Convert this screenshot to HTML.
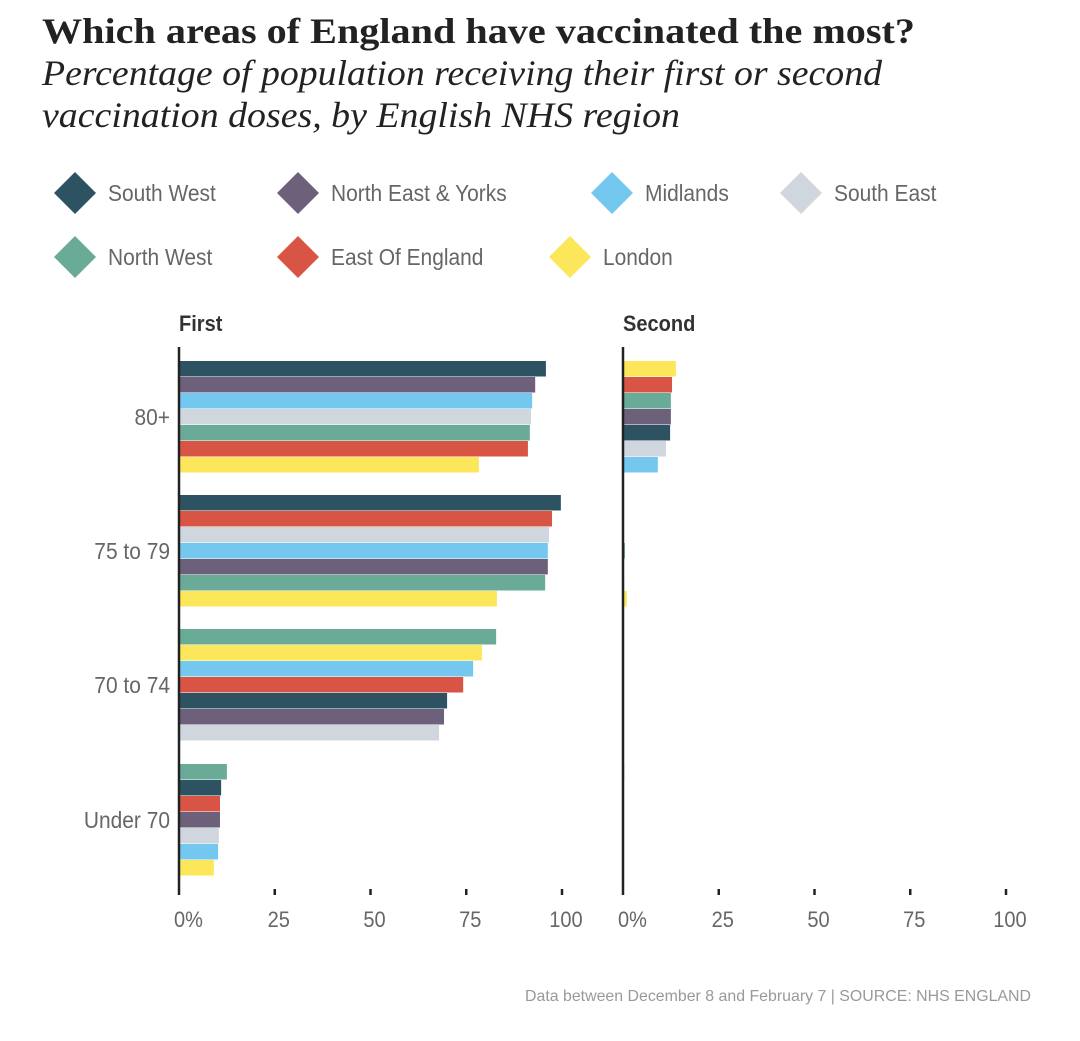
<!DOCTYPE html>
<html><head><meta charset="utf-8"><style>
body{margin:0;background:#fff}
svg{display:block}
.cond{font-family:"Liberation Sans Narrow","Liberation Sans",sans-serif}
</style></head><body>
<svg id="chart" width="1080" height="1041" xmlns="http://www.w3.org/2000/svg">
<text x="42" y="43" font-family="Liberation Serif,serif" font-weight="bold" font-size="36" fill="#222" textLength="873" lengthAdjust="spacingAndGlyphs">Which areas of England have vaccinated the most?</text>
<text x="42" y="85" font-family="Liberation Serif,serif" font-style="italic" font-size="36" fill="#222" textLength="840" lengthAdjust="spacingAndGlyphs">Percentage of population receiving their first or second</text>
<text x="42" y="127" font-family="Liberation Serif,serif" font-style="italic" font-size="36" fill="#222" textLength="638" lengthAdjust="spacingAndGlyphs">vaccination doses, by English NHS region</text>
<g id="legend"></g>
<g id="plot"></g>
<text x="525" y="1001" font-family="Liberation Sans,sans-serif" font-size="16" fill="#999" textLength="506" lengthAdjust="spacingAndGlyphs">Data between December 8 and February 7 | SOURCE: NHS ENGLAND</text>
</svg>
<script>
const regions = ["South West","North East & Yorks","Midlands","South East","North West","East Of England","London"];
const colors = ["#2d5262","#6c607a","#74c8f0","#d0d6de","#6aab98","#d85445","#fce65a"];
const ageGroups = ["80+","75 to 79","70 to 74","Under 70"];
const panels = ["First","Second"];
const firstDose = [
 [95.8,93.0,92.2,91.9,91.6,91.1,78.3],
 [99.7,96.3,96.3,96.6,95.6,97.4,83.0],
 [70.0,69.2,76.8,67.9,82.8,74.2,79.1],
 [11.0,10.7,10.2,10.4,12.5,10.7,9.1]
];
const secondDose = [
 [12.3,12.5,9.1,11.2,12.5,12.8,13.8],
 [0.1,0.1,0.3,0.1,0.5,0.1,1.0],
 [0.1,0.1,0.1,0.1,0.1,0.1,0.1],
 [0.1,0.1,0.1,0.1,0.3,0.1,0.1]
];
const firstOrder = [[0,1,2,3,4,5,6],[0,5,3,2,1,4,6],[4,6,2,5,0,1,3],[4,0,5,1,3,2,6]];
const secondOrder = [[6,5,4,1,0,3,2],[0,5,3,4,1,2,6],[4,6,2,5,0,1,3],[4,0,5,1,3,2,6]];
const ticks = [0,25,50,75,100];
const tickLabels = ["0%","25","50","75","100"];

const NS="http://www.w3.org/2000/svg";
function mk(tag,attrs,parent){const e=document.createElementNS(NS,tag);for(const k in attrs)e.setAttribute(k,attrs[k]);parent.appendChild(e);return e;}
const legend=document.getElementById('legend');
const legX=[75,298,612,801,75,298,570], legY=[193,193,193,193,257,257,257];
regions.forEach((r,i)=>{
  const g=mk('g',{},legend);
  
  
  const cx=legX[i],cy=legY[i];
  mk('polygon',{points:`${cx},${cy-21} ${cx+21},${cy} ${cx},${cy+21} ${cx-21},${cy}`,fill:colors[i]},g);
  const t=mk('text',{x:cx+33,y:cy+8,'font-size':23,fill:'#666',class:'cond'},g);
  t.textContent=r;
});
const plot=document.getElementById('plot');
const panelX0=[179,623], scale=383/100;
const groupTop=[361,495,629,764], barH=16;
const data=[firstDose,secondDose], orders=[firstOrder,secondOrder];
const xs=(p,v)=>panelX0[p]+v*scale;
panels.forEach((pn,p)=>{
  const g=mk('g',{},plot);
  
  
  const t=mk('text',{x:panelX0[p],y:331,'font-size':22,'font-weight':'bold',fill:'#333',class:'cond'},g);
  t.textContent=pn;
  
  
  ageGroups.forEach((ag,gi)=>{
    orders[p][gi].forEach((ri,k)=>{
      const v=data[p][gi][ri];
      const b=mk('rect',{x:xs(p,0),y:groupTop[gi]+k*barH,width:Math.max(0,xs(p,v)-xs(p,0)),height:barH-0.5,fill:colors[ri]},g);
      
      
    });
  });
  const ax=mk('line',{x1:xs(p,0),x2:xs(p,0),y1:347,y2:895,stroke:'#222','stroke-width':2.5},g);
  
  
  ticks.forEach((tv,ti)=>{
    if(tv>0){const tk=mk('line',{x1:xs(p,tv),x2:xs(p,tv),y1:889,y2:895,stroke:'#222','stroke-width':2.5},g);
      
      }
    const tl=mk('text',{x:ti==0?xs(p,tv)-5:xs(p,tv)+4,y:927,'font-size':22,fill:'#666',class:'cond','text-anchor':ti==0?'start':'middle'},g);
    tl.textContent=tickLabels[ti];
    
    
  });
});
ageGroups.forEach((ag,gi)=>{
  const t=mk('text',{x:170,y:groupTop[gi]+64,'font-size':23,fill:'#666',class:'cond','text-anchor':'end'},plot);
  t.textContent=ag;
  
  
});
document.querySelectorAll('text.cond').forEach(t=>{
  const w=t.getComputedTextLength();
  t.setAttribute('textLength',(w*0.91).toFixed(1));
  t.setAttribute('lengthAdjust','spacingAndGlyphs');
});
</script>
</body></html>
